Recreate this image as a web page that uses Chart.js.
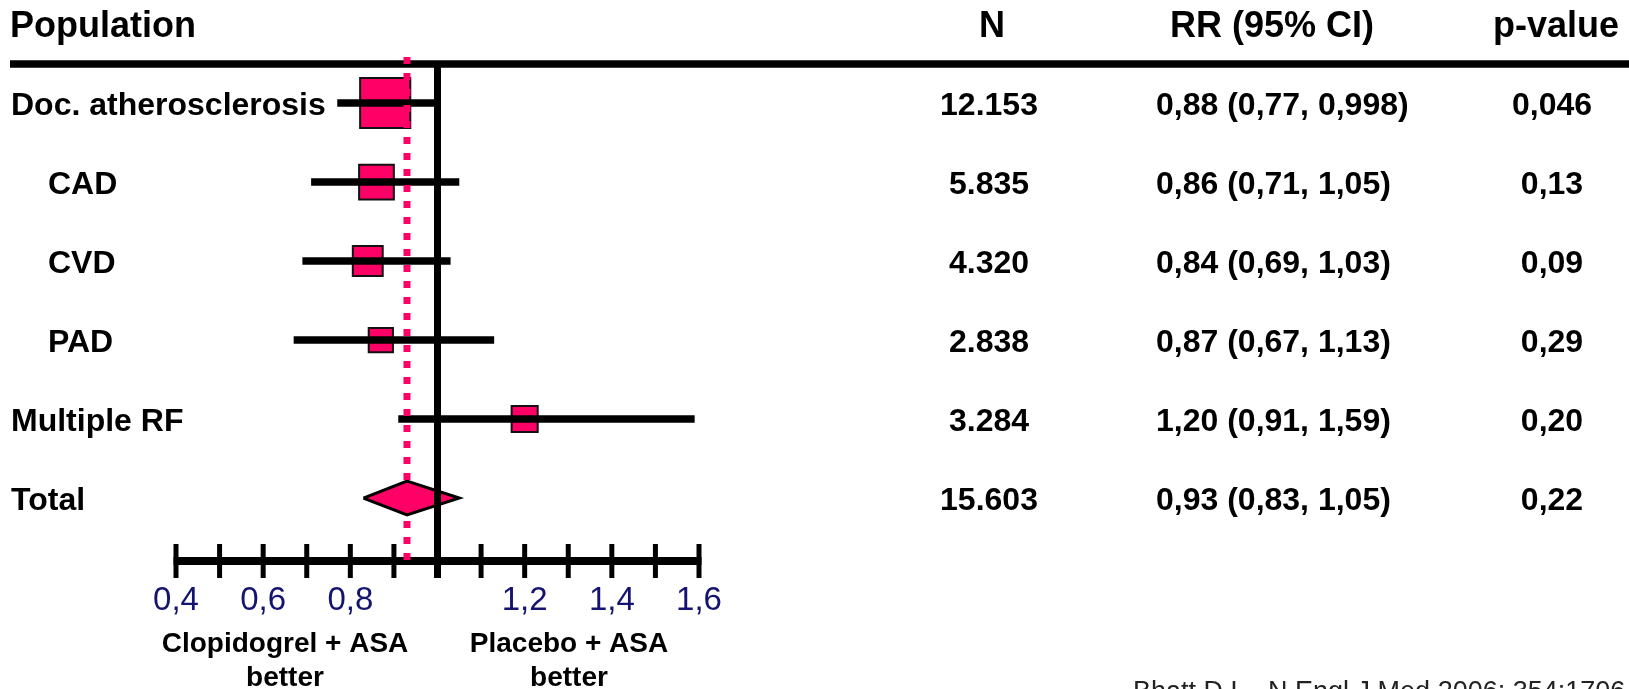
<!DOCTYPE html>
<html>
<head>
<meta charset="utf-8">
<title>Forest plot</title>
<script src="https://cdn.jsdelivr.net/npm/chart.js@4.4.1/dist/chart.umd.min.js"></script>
<style>
  html, body { margin: 0; padding: 0; background: #fff; }
  canvas { display: block; }
</style>
</head>
<body>
<canvas id="forest" width="1629" height="689"></canvas>
<script>
// rows of the table, top to bottom
const groups = ['Doc. atherosclerosis', 'CAD', 'CVD', 'PAD', 'Multiple RF', 'Total'];
const subgroup = [false, true, true, true, false, false];
const nValues = [12153, 5835, 4320, 2838, 3284, 15603];
const rr = [0.88, 0.86, 0.84, 0.87, 1.20, 0.93];
const ciLow = [0.77, 0.71, 0.69, 0.67, 0.91, 0.83];
const ciHigh = [0.998, 1.05, 1.03, 1.13, 1.59, 1.05];
const pValues = ['0,046', '0,13', '0,09', '0,29', '0,20', '0,22'];
const totalRow = 5;

const PINK = '#ff0066';
const FONT = '"Liberation Sans", Arial, Helvetica, sans-serif';

function fmt(v) {
  const two = Math.abs(v * 100 - Math.round(v * 100)) < 1e-9;
  return v.toFixed(two ? 2 : 3).replace('.', ',');
}
function fmtN(n) {
  return String(n).replace(/\B(?=(\d{3})+(?!\d))/g, '.');
}

// confidence interval whiskers, one small line per study row
const ciSets = groups.map((g, i) => ({
  type: 'scatter',
  showLine: true,
  data: [{x: ciLow[i], y: i}, {x: ciHigh[i], y: i}],
  borderColor: '#000',
  borderWidth: 7.5,
  borderCapStyle: 'butt',
  pointRadius: 0
})).filter((d, i) => i !== totalRow);

const boxes = {
  type: 'scatter',
  data: groups.map((g, i) => ({x: rr[i], y: i, n: nValues[i]})).filter((d, i) => i !== totalRow),
  pointStyle: 'rect',
  pointRadius: ctx => (0.455 * Math.sqrt(ctx.raw.n)) / Math.SQRT2,
  backgroundColor: PINK,
  borderColor: '#111',
  borderWidth: 2
};

const halfH = 0.215;
const diamond = {
  type: 'scatter',
  showLine: true,
  fill: 'shape',
  data: [
    {x: ciLow[totalRow], y: totalRow},
    {x: rr[totalRow], y: totalRow - halfH},
    {x: ciHigh[totalRow], y: totalRow},
    {x: rr[totalRow], y: totalRow + halfH},
    {x: ciLow[totalRow], y: totalRow}
  ],
  backgroundColor: PINK,
  borderColor: '#000',
  borderWidth: 3,
  borderJoinStyle: 'miter',
  pointRadius: 0,
  tension: 0
};

function text(ctx, s, x, y, font, align, color) {
  ctx.font = font;
  ctx.textAlign = align;
  ctx.textBaseline = 'alphabetic';
  ctx.fillStyle = color || '#000';
  ctx.fillText(s, x, y);
}

const forestDecor = {
  id: 'forestDecor',
  beforeDatasetsDraw(chart) {
    const {ctx, scales: {x}} = chart;
    const axisY = chart.chartArea.bottom;
    ctx.save();
    ctx.strokeStyle = '#000';
    ctx.lineCap = 'butt';
    // rule under the header
    ctx.lineWidth = 7.5;
    ctx.beginPath();
    ctx.moveTo(10, 64);
    ctx.lineTo(chart.width, 64);
    ctx.stroke();
    // RR axis with ticks crossing it
    ctx.lineWidth = 8;
    ctx.beginPath();
    ctx.moveTo(x.left - 2.5, axisY);
    ctx.lineTo(x.right + 2.5, axisY);
    ctx.stroke();
    ctx.lineWidth = 5;
    x.ticks.forEach(t => {
      const px = x.getPixelForValue(t.value);
      ctx.beginPath();
      ctx.moveTo(px, axisY - 17);
      ctx.lineTo(px, axisY + 17);
      ctx.stroke();
    });
    ctx.restore();
  },
  afterDatasetsDraw(chart) {
    const {ctx, scales: {x, y}} = chart;
    const axisY = chart.chartArea.bottom;
    ctx.save();
    // line of no effect
    const one = x.getPixelForValue(1);
    ctx.strokeStyle = '#000';
    ctx.lineWidth = 7;
    ctx.beginPath();
    ctx.moveTo(one, 64);
    ctx.lineTo(one, axisY + 17);
    ctx.stroke();
    // pooled estimate, dotted
    const pooled = x.getPixelForValue(rr[totalRow]);
    ctx.strokeStyle = PINK;
    ctx.setLineDash([7, 9]);
    ctx.beginPath();
    ctx.moveTo(pooled, 57);
    ctx.lineTo(pooled, axisY);
    ctx.stroke();
    ctx.setLineDash([]);

    // table
    const head = 'bold 36px ' + FONT;
    const body = 'bold 32px ' + FONT;
    text(ctx, 'Population', 10, 37, head, 'left');
    text(ctx, 'N', 992, 37, head, 'center');
    text(ctx, 'RR (95% CI)', 1272, 37, head, 'center');
    text(ctx, 'p-value', 1556, 37, head, 'center');
    groups.forEach((g, i) => {
      const base = y.getPixelForValue(i) + 11.5;
      text(ctx, g, subgroup[i] ? 48 : 11, base, body, 'left');
      text(ctx, fmtN(nValues[i]), 989, base, body, 'center');
      text(ctx, fmt(rr[i]) + ' (' + fmt(ciLow[i]) + ', ' + fmt(ciHigh[i]) + ')', 1156, base, body, 'left');
      text(ctx, pValues[i], 1552, base, body, 'center');
    });

    const small = 'bold 28px ' + FONT;
    text(ctx, 'Clopidogrel + ASA', 285, 652, small, 'center');
    text(ctx, 'better', 285, 686, small, 'center');
    text(ctx, 'Placebo + ASA', 569, 652, small, 'center');
    text(ctx, 'better', 569, 686, small, 'center');
    text(ctx, 'Bhatt D.L., N Engl J Med 2006; 354:1706-17', 1133, 700, '27px ' + FONT, 'left', '#222');
    ctx.restore();
  }
};

new Chart(document.getElementById('forest'), {
  type: 'scatter',
  data: { datasets: [...ciSets, boxes, diamond] },
  options: {
    responsive: false,
    animation: false,
    devicePixelRatio: 1,
    events: [],
    layout: { padding: { left: 176, right: 930, top: 64, bottom: 0 } },
    plugins: { legend: { display: false }, tooltip: { enabled: false } },
    scales: {
      x: {
        type: 'linear',
        min: 0.4,
        max: 1.6,
        position: 'bottom',
        border: { display: false },
        grid: { display: false, drawTicks: false },
        afterFit: s => { s.height = 128; },
        ticks: {
          stepSize: 0.1,
          autoSkip: false,
          maxRotation: 0,
          padding: 20,
          color: '#141470',
          font: { family: FONT, size: 33 },
          callback: (v, i) => (i % 2 === 0 && i !== 6) ? v.toFixed(1).replace('.', ',') : ''
        }
      },
      y: {
        type: 'linear',
        display: false,
        reverse: true,
        min: -0.494,
        max: 5.797
      }
    }
  },
  plugins: [forestDecor]
});
</script>
</body>
</html>
